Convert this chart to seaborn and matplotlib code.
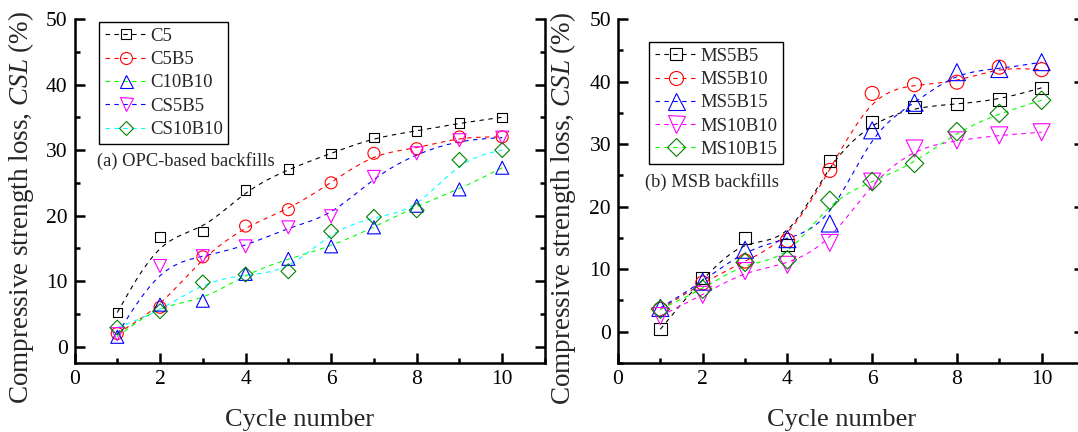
import numpy as np
import pandas as pd
import matplotlib
matplotlib.use("Agg")
import matplotlib.pyplot as plt
from matplotlib.lines import Line2D
from matplotlib.ticker import MultipleLocator
import seaborn as sns

# ---------------- data ----------------
cycles = [1, 2, 3, 4, 5, 6, 7, 8, 9, 10]

# (a) OPC-based backfills
names_a = ["C5", "C5B5", "C10B10", "CS5B5", "CS10B10"]
C5 = [5.2, 16.7, 17.6, 23.9, 27.1, 29.5, 31.9, 32.9, 34.1, 35.0]
C5B5 = [2.0, 6.0, 13.7, 18.4, 20.9, 25.0, 29.5, 30.2, 32.0, 32.0]
C10B10 = [1.5, 6.4, 7.0, 11.1, 13.4, 15.3, 18.2, 21.5, 24.0, 27.3]
CS5B5 = [1.9, 12.3, 13.8, 15.3, 18.2, 19.9, 25.9, 29.5, 31.5, 31.9]
CS10B10 = [2.9, 5.4, 9.8, 11.0, 11.5, 17.6, 19.8, 20.8, 28.5, 30.0]

# (b) MSB backfills
names_b = ["MS5B5", "MS5B10", "MS5B15", "MS10B10", "MS10B15"]
MS5B5 = [0.4, 8.6, 15.0, 13.9, 27.3, 33.5, 35.9, 36.4, 37.1, 39.0]
MS5B10 = [3.6, 7.8, 11.3, 14.6, 25.8, 38.1, 39.5, 39.9, 42.3, 41.9]
MS5B15 = [3.8, 8.0, 13.1, 14.8, 17.3, 32.2, 36.6, 41.5, 42.0, 43.1]
MS10B10 = [2.5, 5.9, 9.7, 10.7, 14.2, 24.0, 29.3, 30.6, 31.4, 31.9]
MS10B15 = [3.6, 6.8, 11.1, 11.5, 21.0, 24.0, 26.9, 32.0, 34.9, 37.0]

x_ticks = [0, 2, 4, 6, 8, 10]
y_ticks = [0, 10, 20, 30, 40, 50]

# ---------------- style ----------------
sns.set_style("ticks")
plt.rcParams["font.family"] = ["Liberation Serif", "DejaVu Serif"]
plt.rcParams["mathtext.fontset"] = "custom"
plt.rcParams["mathtext.rm"] = "Liberation Serif"
plt.rcParams["mathtext.it"] = "Liberation Serif:italic"

series_a = [C5, C5B5, C10B10, CS5B5, CS10B10]
series_b = [MS5B5, MS5B10, MS5B15, MS10B10, MS10B15]
line_cols_a = ["#000000", "#FF0000", "#00FF00", "#0000FF", "#00FFFF"]
mark_cols_a = ["#000000", "#FF0000", "#0000FF", "#FF00FF", "#008000"]
line_cols_b = ["#000000", "#FF0000", "#0000FF", "#FF00FF", "#00FF00"]
mark_cols_b = ["#000000", "#FF0000", "#0000FF", "#FF00FF", "#008000"]
markers = ["s", "o", "^", "v", "D"]
PX = 0.72  # px -> pt at dpi 100
msize_a = [9.5 * PX, 12 * PX, 13 * PX, 13 * PX, 10.5 * PX]
msize_b = [12.5 * PX, 14 * PX, 17 * PX, 17 * PX, 13 * PX]
DASH = (0, (4, 4))


def bspline(xv, yv, n=24):
    """Uniform cubic B-spline (Origin-style 'B-spline' connection) through end points."""
    xv = np.asarray(xv, float)
    yv = np.asarray(yv, float)
    px = np.r_[xv[0], xv[0], xv, xv[-1], xv[-1]]
    py = np.r_[yv[0], yv[0], yv, yv[-1], yv[-1]]
    t = np.linspace(0, 1, n, endpoint=False)
    b0 = (1 - t) ** 3 / 6
    b1 = (3 * t ** 3 - 6 * t ** 2 + 4) / 6
    b2 = (-3 * t ** 3 + 3 * t ** 2 + 3 * t + 1) / 6
    b3 = t ** 3 / 6
    sx, sy = [], []
    for i in range(len(px) - 3):
        sx.append(b0 * px[i] + b1 * px[i + 1] + b2 * px[i + 2] + b3 * px[i + 3])
        sy.append(b0 * py[i] + b1 * py[i + 1] + b2 * py[i + 2] + b3 * py[i + 3])
    sx = np.concatenate(sx + [[xv[-1]]])
    sy = np.concatenate(sy + [[yv[-1]]])
    return sx, sy


fig = plt.figure(figsize=(10.78, 4.32), dpi=100)
ax_a = fig.add_axes([74.5 / 1078, 69 / 432, 470.5 / 1078, 344 / 432])
ax_b = fig.add_axes([618 / 1078, 69 / 432, 466 / 1078, 344 / 432])


def draw_panel(ax, names, series, lcols, mcols, msizes, ylim, leg_anchor, note, note_xy):
    handles = []
    for name, ys, lc, mc, mk, ms in zip(names, series, lcols, mcols, markers, msizes):
        sx, sy = bspline(cycles, ys)
        sns.lineplot(x=sx, y=sy, sort=False, estimator=None, ax=ax, color=lc,
                     linewidth=0.8, linestyle=DASH, zorder=2)
        sns.scatterplot(x=cycles, y=ys, ax=ax, marker=mk, s=ms ** 2,
                        facecolor="none", edgecolor=mc, linewidth=0.8, zorder=3)
        handles.append(Line2D([], [], color=lc, linewidth=0.8, linestyle=DASH,
                              marker=mk, markersize=ms, markerfacecolor="none",
                              markeredgecolor=mc, markeredgewidth=0.8, label=name))
    ax.set_xlim(0, 11)
    ax.set_ylim(*ylim)
    ax.set_xticks(x_ticks)
    ax.set_yticks(y_ticks)
    ax.xaxis.set_minor_locator(MultipleLocator(1))
    ax.yaxis.set_minor_locator(MultipleLocator(5))
    ax.tick_params(which="both", direction="in", right=True, top=False,
                   labelsize=15.5, width=1.8, pad=5, colors="black")
    ax.tick_params(which="major", length=7)
    ax.tick_params(which="minor", length=3.5)
    ax.spines["top"].set_visible(False)
    for sp in ["left", "right", "bottom"]:
        ax.spines[sp].set_linewidth(1.8)
        ax.spines[sp].set_color("black")
    ax.set_xlabel("Cycle number", fontsize=19)
    ax.set_ylabel(r"Compressive strength loss, $\mathit{CSL}$ (%)", fontsize=19.5)
    leg = ax.legend(handles=handles, loc="upper left", bbox_to_anchor=leg_anchor,
                    borderaxespad=0, fontsize=13.5, frameon=True, fancybox=False,
                    edgecolor="black", framealpha=1, handlelength=2.3,
                    handletextpad=0.12, labelspacing=0.33, borderpad=0.3)
    leg.get_frame().set_linewidth(1.0)
    ax.text(note_xy[0], note_xy[1], note, fontsize=13.3, ha="left", va="center")


draw_panel(ax_a, names_a, series_a, line_cols_a, mark_cols_a, msize_a, (-2.5, 50),
           (0.052, 0.991), "(a) OPC-based backfills", (0.53, 28.4))
draw_panel(ax_b, names_b, series_b, line_cols_b, mark_cols_b, msize_b, (-5, 50),
           (0.0665, 0.933), "(b) MSB backfills", (0.64, 24.0))

ax_a.xaxis.set_label_coords(0.479, -0.135)
ax_b.xaxis.set_label_coords(0.48, -0.135)
ax_a.yaxis.set_label_coords(-0.081, 0.453)
ax_b.yaxis.set_label_coords(-0.085, 0.45)

fig.savefig("out.png", dpi=100)
